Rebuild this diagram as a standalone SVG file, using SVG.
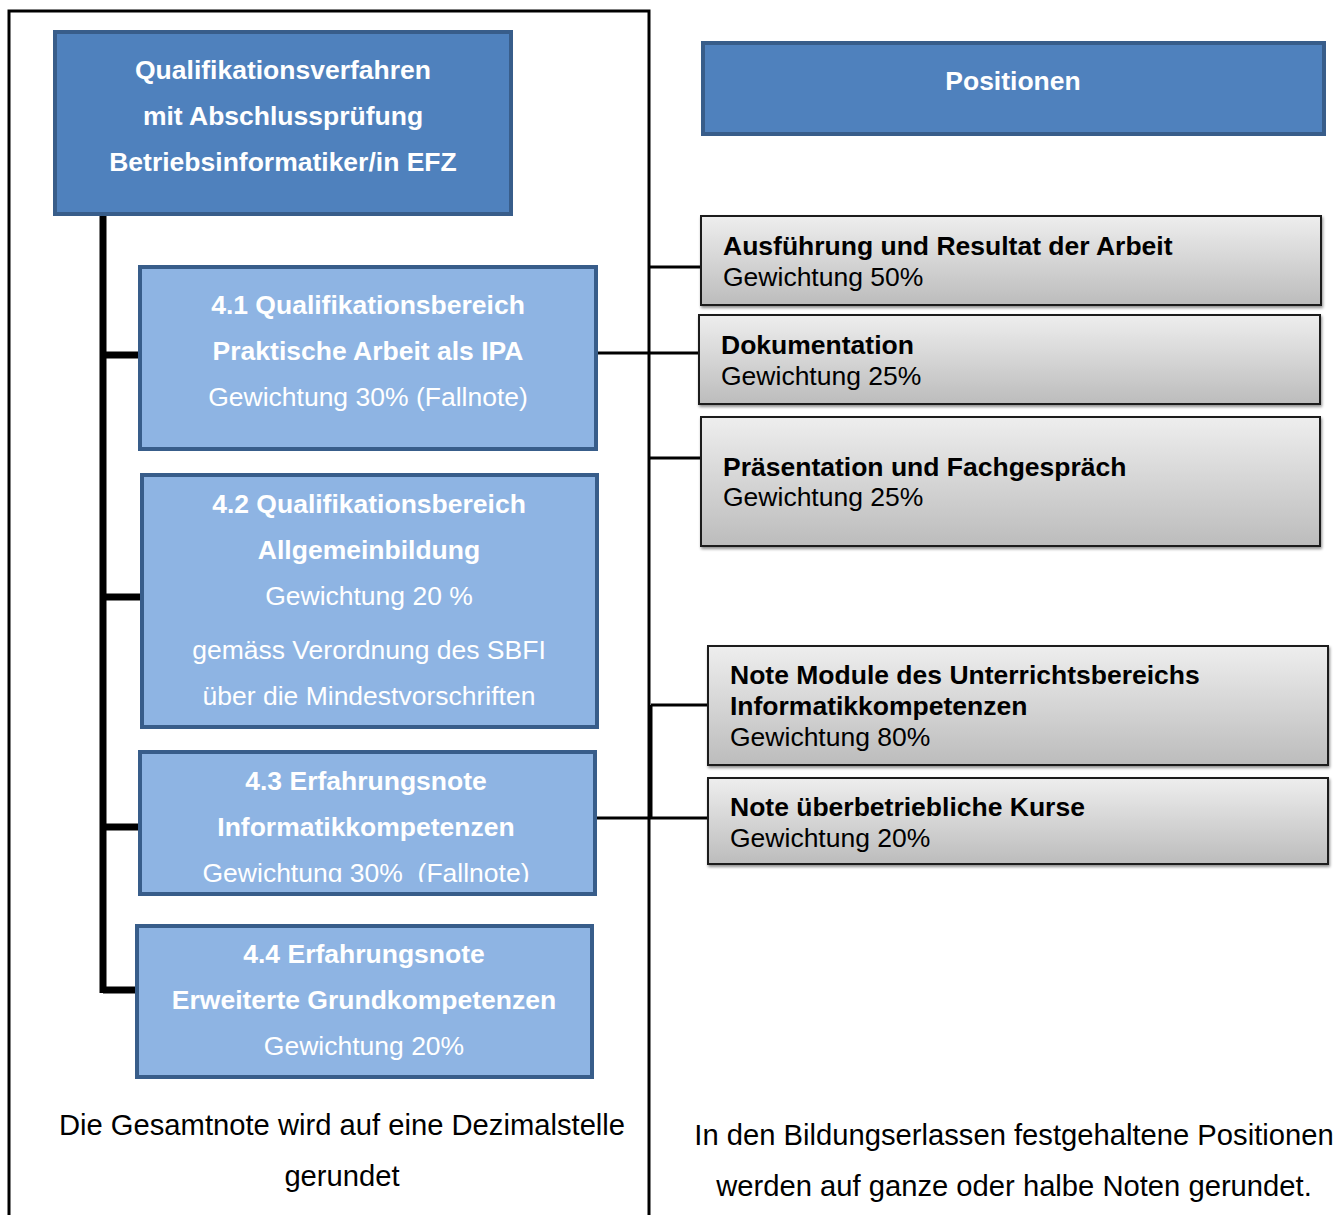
<svg xmlns="http://www.w3.org/2000/svg" width="1340" height="1215" viewBox="0 0 1340 1215">
  <defs>
    <linearGradient id="grey" x1="0" y1="0" x2="0" y2="1">
      <stop offset="0" stop-color="#EEEEEE"/>
      <stop offset="1" stop-color="#BCBCBC"/>
    </linearGradient>
    <filter id="shadow" x="-5%" y="-10%" width="110%" height="130%">
      <feGaussianBlur in="SourceAlpha" stdDeviation="1.5"/>
      <feOffset dx="1" dy="2" result="b"/>
      <feComponentTransfer><feFuncA type="linear" slope="0.45"/></feComponentTransfer>
      <feMerge><feMergeNode/><feMergeNode in="SourceGraphic"/></feMerge>
    </filter>
    <clipPath id="clip43"><rect x="140" y="752" width="455" height="130"/></clipPath>
  </defs>
  <style>
    text { font-family: "Liberation Sans", Arial, sans-serif; font-size: 26.5px; }
    .b { font-weight: bold; }
    .w { fill: #FFFFFF; }
    .k { fill: #000000; }
    .c { text-anchor: middle; }
    .dark { fill: #4F81BD; stroke: #385D8A; stroke-width: 4; }
    .light { fill: #8EB4E3; stroke: #385D8A; stroke-width: 4; }
    .grey { fill: url(#grey); stroke: #1E1E1E; stroke-width: 2; filter: url(#shadow); }
    .trunk { stroke: #000; stroke-width: 7; fill: none; }
    .thin { stroke: #000; stroke-width: 3; fill: none; }
    .note { font-size: 29.2px; }
  </style>

  <rect width="1340" height="1215" fill="#FFFFFF"/>

  <!-- frame around the left column -->
  <path class="thin" d="M9,1215 V11 H649 V1215"/>

  <!-- connectors -->
  <g id="connectors">
    <path class="trunk" d="M103,214 V993"/>
    <path class="trunk" d="M100,355 H140"/>
    <path class="trunk" d="M103,597 H146"/>
    <path class="trunk" d="M103,827 H140"/>
    <path class="trunk" d="M103,990 H138"/>
    <path class="thin" d="M649,267 H701"/>
    <path class="thin" d="M596,353 H699"/>
    <path class="thin" d="M649,458 H701"/>
    <path class="thin" d="M651,705 V818"/>
    <path class="thin" d="M651,705 H708"/>
    <path class="thin" d="M596,818 H708"/>
  </g>

  <g id="qv">
    <rect class="dark" x="55" y="32" width="456" height="182"/>
    <text class="b w c" x="283" y="79">Qualifikationsverfahren</text>
    <text class="b w c" x="283" y="125">mit Abschlussprüfung</text>
    <text class="b w c" x="283" y="171">Betriebsinformatiker/in EFZ</text>
  </g>

  <g id="qb41">
    <rect class="light" x="140" y="267" width="456" height="182"/>
    <text class="b w c" x="368" y="314">4.1 Qualifikationsbereich</text>
    <text class="b w c" x="368" y="360">Praktische Arbeit als IPA</text>
    <text class="w c" x="368" y="406">Gewichtung 30% (Fallnote)</text>
  </g>

  <g id="qb42">
    <rect class="light" x="142" y="475" width="455" height="252"/>
    <text class="b w c" x="369" y="513">4.2 Qualifikationsbereich</text>
    <text class="b w c" x="369" y="559">Allgemeinbildung</text>
    <text class="w c" x="369" y="605">Gewichtung 20 %</text>
    <text class="w c" x="369" y="659">gemäss Verordnung des SBFI</text>
    <text class="w c" x="369" y="705">über die Mindestvorschriften</text>
  </g>

  <g id="en43">
    <rect class="light" x="140" y="752" width="455" height="142"/>
    <text class="b w c" x="366" y="790">4.3 Erfahrungsnote</text>
    <text class="b w c" x="366" y="836">Informatikkompetenzen</text>
    <text class="w c" x="366" y="882" clip-path="url(#clip43)" xml:space="preserve">Gewichtung 30%  (Fallnote)</text>
  </g>

  <g id="en44">
    <rect class="light" x="137" y="926" width="455" height="151"/>
    <text class="b w c" x="364" y="963">4.4 Erfahrungsnote</text>
    <text class="b w c" x="364" y="1009">Erweiterte Grundkompetenzen</text>
    <text class="w c" x="364" y="1055">Gewichtung 20%</text>
  </g>

  <g id="positionen">
    <rect class="dark" x="703" y="43" width="621" height="91"/>
    <text class="b w c" x="1013" y="90">Positionen</text>
  </g>

  <g id="pos-ausfuehrung">
    <rect class="grey" x="701" y="216" width="620" height="89"/>
    <text class="b k" x="723" y="255">Ausführung und Resultat der Arbeit</text>
    <text class="k" x="723" y="286">Gewichtung 50%</text>
  </g>

  <g id="pos-dokumentation">
    <rect class="grey" x="699" y="315" width="621" height="89"/>
    <text class="b k" x="721" y="354">Dokumentation</text>
    <text class="k" x="721" y="385">Gewichtung 25%</text>
  </g>

  <g id="pos-praesentation">
    <rect class="grey" x="701" y="417" width="619" height="129"/>
    <text class="b k" x="723" y="476">Präsentation und Fachgespräch</text>
    <text class="k" x="723" y="506">Gewichtung 25%</text>
  </g>

  <g id="pos-module">
    <rect class="grey" x="708" y="646" width="620" height="119"/>
    <text class="b k" x="730" y="684">Note Module des Unterrichtsbereichs</text>
    <text class="b k" x="730" y="715">Informatikkompetenzen</text>
    <text class="k" x="730" y="746">Gewichtung 80%</text>
  </g>

  <g id="pos-uek">
    <rect class="grey" x="708" y="778" width="620" height="86"/>
    <text class="b k" x="730" y="816">Note überbetriebliche Kurse</text>
    <text class="k" x="730" y="847">Gewichtung 20%</text>
  </g>

  <g id="notes">
    <text class="k c note" x="342" y="1135">Die Gesamtnote wird auf eine Dezimalstelle</text>
    <text class="k c note" x="342" y="1186">gerundet</text>
    <text class="k c note" x="1014" y="1145">In den Bildungserlassen festgehaltene Positionen</text>
    <text class="k c note" x="1014" y="1196">werden auf ganze oder halbe Noten gerundet.</text>
  </g>
</svg>
